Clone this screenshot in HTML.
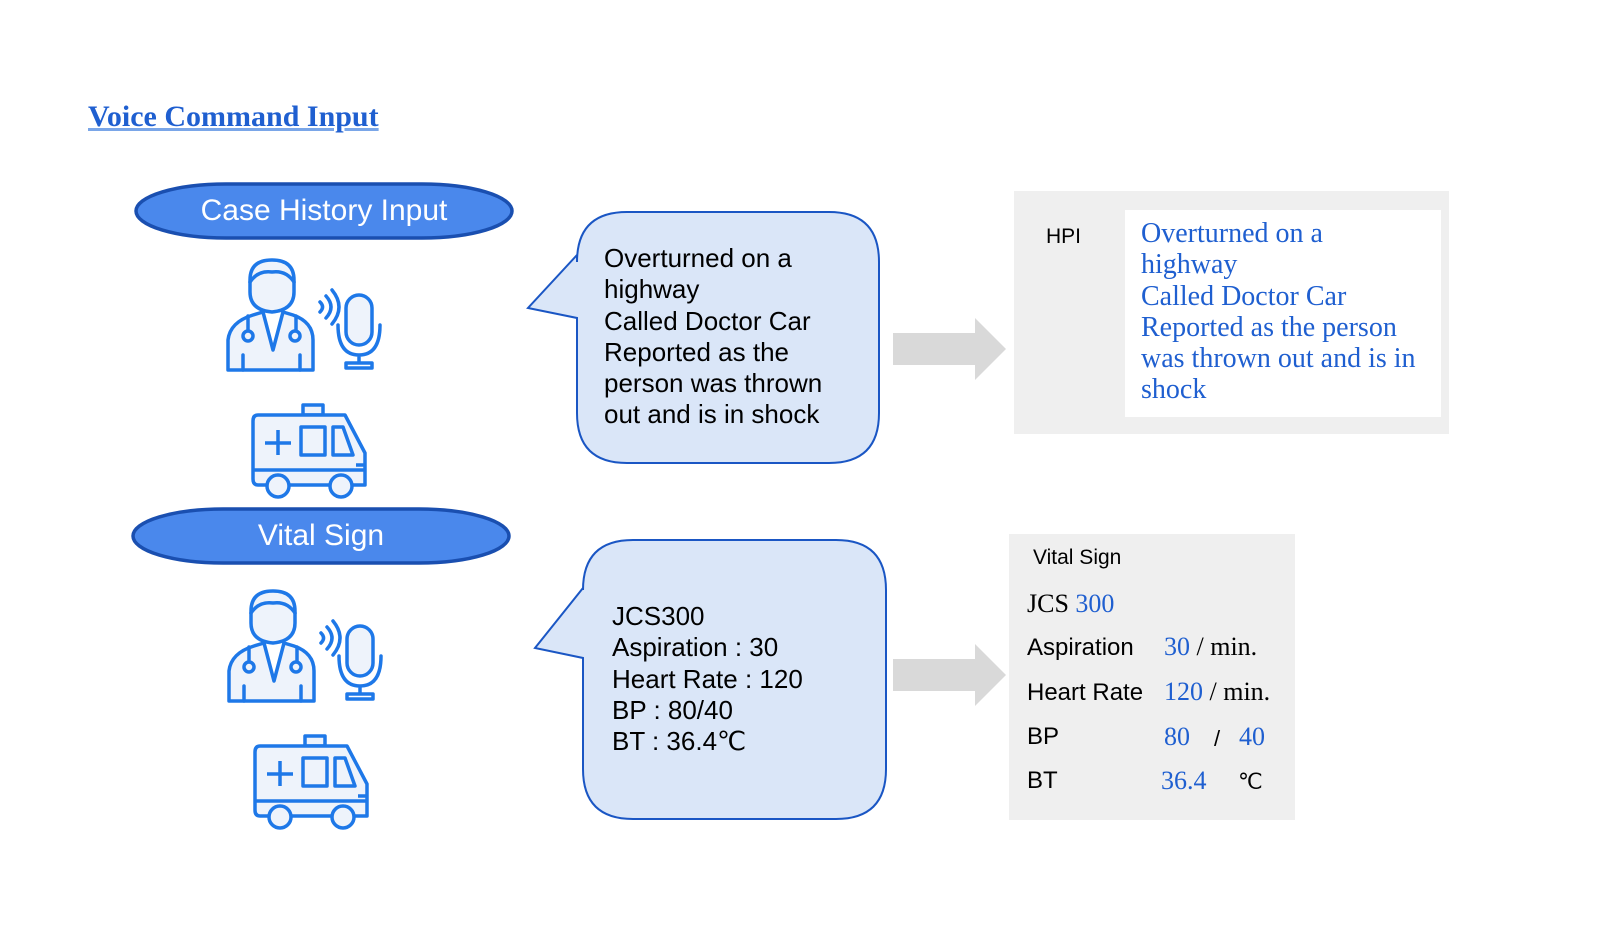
<!DOCTYPE html>
<html><head><meta charset="utf-8"><style>
body{margin:0;width:1600px;height:933px;background:#fff;position:relative;overflow:hidden;font-family:"Liberation Sans",sans-serif}
.a{position:absolute}
.t{position:absolute;white-space:nowrap}
.ser{font-family:"Liberation Serif","Noto Serif CJK SC",serif}
.bl{color:#1f5fd0}
</style></head><body>
<div class="t ser" style="left:88px;top:100px;font-size:30px;font-weight:bold;color:#1f5fd0;text-decoration:underline;text-decoration-color:#7aa6e8">Voice Command Input</div>

<svg class="a" style="left:0;top:0" width="1600" height="933">
<defs>
<g id="doc" fill="#eef3fb" stroke="#1e78e8" stroke-width="3.5" stroke-linejoin="round" stroke-linecap="round">
 <path d="M0,110 L0,80 Q2,62 25,55 L35,52 L45,90 L55,52 L65,55 Q85,62 85,80 L85,110 Z"/>
 <path d="M22,20 Q22,0 44,0 Q66,0 66,20 L66,32 Q66,50 44,52 Q22,50 22,32 Z"/>
 <path d="M22,22 Q30,10 44,12 Q58,10 66,22" fill="none"/>
 <path d="M20,56 L20,72 M68,56 L68,72" fill="none"/>
 <circle cx="20" cy="76" r="5"/><circle cx="67" cy="76" r="5"/>
 <path d="M15,95 L15,110 M72,95 L72,110" fill="none"/>
 <path d="M92,42 q5,5 0,10 M98,36 q10,11 0,22 M104,30 q14,17 0,34" fill="none"/>
 <rect x="118" y="35" width="26" height="50" rx="13"/>
 <path d="M110,65 q0,30 21,30 q21,0 21,-30 M131,95 L131,103 M118,108 L144,108 L144,103 L118,103 Z" fill="none"/>
</g>
<g id="amb" fill="#eef3fb" stroke="#1e78e8" stroke-width="3.5" stroke-linejoin="round">
 <rect x="50" y="0" width="20" height="10"/>
 <path d="M5,10 L92,10 L112,48 L112,80 L5,80 Q0,80 0,74 L0,16 Q0,10 5,10 Z"/>
 <path d="M0,65 L112,65 M103,60 L112,60" fill="none"/>
 <path d="M12,38 L38,38 M25,25 L25,50" fill="none"/>
 <rect x="48" y="22" width="24" height="28"/>
 <path d="M80,22 L90,22 L100,50 L80,50 Z"/>
 <circle cx="25" cy="81" r="11"/><circle cx="88" cy="81" r="11"/>
</g>
</defs>
<rect x="136" y="184" width="376" height="54" rx="90" ry="27" fill="#4a88ec" stroke="#1a4fb0" stroke-width="3.5"/>
<rect x="133" y="509" width="376" height="54" rx="90" ry="27" fill="#4a88ec" stroke="#1a4fb0" stroke-width="3.5"/>
<use href="#doc" x="228" y="260"/>
<use href="#amb" x="253" y="405"/>
<use href="#doc" x="229" y="591"/>
<use href="#amb" x="255" y="736"/>
<path d="M627,212 L829,212 Q879,212 879,262 L879,413 Q879,463 829,463 L627,463 Q577,463 577,413 L577,318 L528,308 L577,255 L577,262 Q577,212 627,212 Z" fill="#dae6f8" stroke="#1a56c4" stroke-width="2"/>
<path d="M633,540 L836,540 Q886,540 886,590 L886,769 Q886,819 836,819 L633,819 Q583,819 583,769 L583,658 L535,648 L583,588 L583,590 Q583,540 633,540 Z" fill="#dae6f8" stroke="#1a56c4" stroke-width="2"/>
<path d="M893,333 L975,333 L975,318 L1006,349 L975,380 L975,365 L893,365 Z" fill="#d9d9d9"/>
<path d="M893,659 L975,659 L975,644 L1006,675 L975,706 L975,691 L893,691 Z" fill="#d9d9d9"/>
<rect x="1014" y="191" width="435" height="243" fill="#efefef"/>
<rect x="1125" y="210" width="316" height="207" fill="#fff"/>
<rect x="1009" y="534" width="286" height="286" fill="#efefef"/>
</svg>

<div class="t" style="left:135px;top:194px;width:378px;text-align:center;color:#fff;font-size:30px">Case History Input</div>
<div class="t" style="left:132px;top:519px;width:378px;text-align:center;color:#fff;font-size:30px">Vital Sign</div>

<div class="t" style="left:604px;top:243px;font-size:26px;line-height:31.3px;color:#000">Overturned on a<br>highway<br>Called Doctor Car<br>Reported as the<br>person was thrown<br>out and is in shock</div>
<div class="t" style="left:612px;top:601px;font-size:26px;line-height:31.3px;color:#000">JCS300<br>Aspiration : 30<br>Heart Rate : 120<br>BP : 80/40<br>BT : 36.4℃</div>

<div class="t" style="left:1046px;top:225px;font-size:21px">HPI</div>
<div class="t ser bl" style="left:1141px;top:218px;font-size:28px;line-height:31.3px">Overturned on a<br>highway<br>Called Doctor Car<br>Reported as the person<br>was thrown out and is in<br>shock</div>

<div class="t" style="left:1033px;top:546px;font-size:21px">Vital Sign</div>
<div class="t ser" style="left:1027px;top:589px;font-size:26px">JCS <span class="bl">300</span></div>
<div class="t" style="left:1027px;top:634px;font-size:24px">Aspiration</div>
<div class="t ser" style="left:1164px;top:632px;font-size:26px"><span class="bl">30</span> / min.</div>
<div class="t" style="left:1027px;top:679px;font-size:24px">Heart Rate</div>
<div class="t ser" style="left:1164px;top:677px;font-size:26px"><span class="bl">120</span> / min.</div>
<div class="t" style="left:1027px;top:723px;font-size:24px">BP</div>
<div class="t ser bl" style="left:1164px;top:722px;font-size:26px">80</div>
<div class="t" style="left:1214px;top:726px;font-size:22px">/</div>
<div class="t ser bl" style="left:1239px;top:722px;font-size:26px">40</div>
<div class="t" style="left:1027px;top:767px;font-size:24px">BT</div>
<div class="t ser bl" style="left:1161px;top:766px;font-size:26px">36.4</div>
<div class="t" style="left:1238px;top:769px;font-size:22px">℃</div>
</body></html>
